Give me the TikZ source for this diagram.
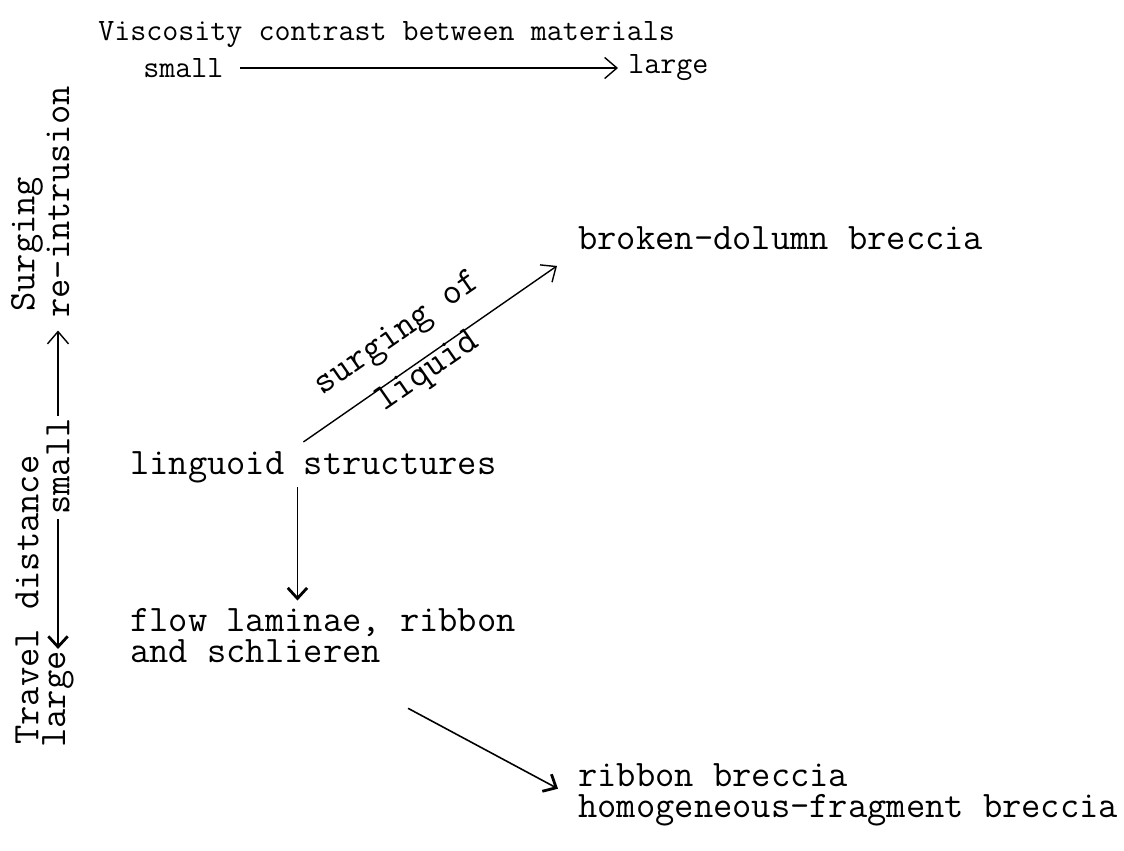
\documentclass[tikz,border=0pt]{standalone}
\usepackage{fontspec}
\usetikzlibrary{arrows.meta}
\tikzset{
  typed/.style={font=\ttfamily\fontsize{21.3}{17.8}\selectfont, inner sep=0pt, align=left},
  headtext/.style={font=\ttfamily\fontsize{17.7}{20}\selectfont, inner sep=0pt},
  barb/.style={-{Straight Barb[length=7pt,width=12pt]}, line width=0.8pt},
  heavybarb/.style={-{Straight Barb[length=6pt,width=11pt,line width=1.6pt]}, line width=0.9pt},
}

\begin{document}
\begin{tikzpicture}[x=0.02cm,y=-0.02cm]
                \useasboundingbox (0,0) rectangle (1124,850);
                \node[headtext,anchor=west] (title) at (98,35) {Viscosity contrast between materials};
                \node[headtext,anchor=west] (vsmall) at (143,68) {small};
                \node[headtext,anchor=west] (vlarge) at (628,68) {large};
                \draw[barb] (vsmall.east) -- (vlarge.west) [shorten <=0.32cm, shorten >=0.2cm];
                \node[typed,rotate=90,anchor=west] (travel) at (27,745) {Travel distance};
                \node[typed,rotate=90,anchor=west] (surging) at (27,312) {Surging};
                \node[typed,rotate=90,anchor=west] (tlarge) at (58,748) {large};
                \node[typed,rotate=90,anchor=west] (tsmall) at (58,515) {small};
                \node[typed,rotate=90,anchor=west] (reintr) at (58,318) {re-intrusion};
                \draw[heavybarb] (tsmall.west) -- (tlarge.east) [shorten <=0.08cm, shorten >=0.04cm];
                \draw[barb] (tsmall.east) -- (reintr.west) [shorten <=0.04cm, shorten >=0.25cm];
                \node[typed,anchor=west] (broken) at (578,238) {broken-dolumn breccia};
                \node[typed,anchor=west] (linguoid) at (130,467) {linguoid structures};
                \node[typed,anchor=north west] (flow) at (130,608) {flow laminae, ribbon\\and schlieren};
                \node[typed,anchor=north west] (ribbon) at (578,763) {ribbon breccia\\homogeneous-fragment breccia};
                \draw[barb] ([shift={(-10,-9)}]linguoid.north) -- ([shift={(-21,16)}]broken.south west)
                    node[typed,sloped,pos=0.45,above=0.36cm] (surglabel) {surging of}
                    node[typed,sloped,pos=0.46,below=-0.04cm] (liqlabel) {liquid};
                \coordinate (vtop) at ([shift={(-16,4)}]linguoid.south);
                \draw[heavybarb] (vtop) -- (vtop |- flow.north) [shorten >=0.15cm];
                \draw[heavybarb] ([shift={(85,45)}]flow.south) -- ([shift={(-20,-6)}]ribbon.west);
            \end{tikzpicture}
\end{document}
